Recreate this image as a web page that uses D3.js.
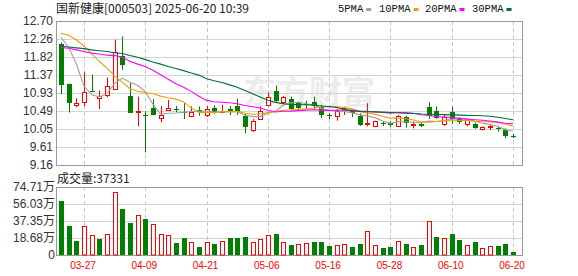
<!DOCTYPE html>
<html lang="zh">
<head>
  <meta charset="UTF-8">
  <title>国新健康 K线</title>
  <script src="https://cdn.jsdelivr.net/npm/d3@7"></script>
  <style>
    body { margin: 0; background: #fff; }
    text { font-family: "Liberation Sans", "Noto Sans CJK SC", sans-serif; }
  </style>
</head>
<body>
  <div id="kline"></div>

  <script>
    const width = 578,
      height = 276;

    // 交易日
    const dates = ["03-24","03-25","03-26","03-27","03-28","03-31","04-01","04-02","04-03","04-07",
      "04-08","04-09","04-10","04-11","04-14","04-15","04-16","04-17","04-18","04-21",
      "04-22","04-23","04-24","04-25","04-28","04-29","04-30","05-06","05-07","05-08",
      "05-09","05-12","05-13","05-14","05-15","05-16","05-19","05-20","05-21","05-22",
      "05-23","05-26","05-27","05-28","05-29","05-30","06-03","06-04","06-05","06-06",
      "06-09","06-10","06-11","06-12","06-13","06-16","06-17","06-18","06-19","06-20"];

    const opens = [12.13,11.16,10.63,10.70,10.99,10.82,10.88,11.03,11.83,10.86,
      10.45,10.38,10.56,10.31,10.53,10.54,10.46,10.37,10.51,10.39,
      10.55,10.46,10.54,10.60,10.37,10.04,10.29,10.63,10.99,10.70,
      10.79,10.68,10.66,10.70,10.58,10.38,10.35,10.54,10.50,10.37,
      10.18,10.11,10.20,10.19,10.12,10.34,10.15,10.17,10.58,10.49,
      10.17,10.46,10.30,10.16,10.17,10.05,10.08,10.06,10.01,9.88];
    const highs = [12.17,11.16,10.80,11.44,11.38,10.99,11.31,12.24,12.32,11.17,
      10.84,10.48,10.78,10.61,10.76,10.61,10.68,10.60,10.60,10.61,
      10.63,10.64,10.61,10.79,10.43,10.29,10.60,10.94,11.12,10.86,
      10.84,10.72,10.74,10.84,10.64,10.43,10.54,10.60,10.52,10.43,
      10.68,10.25,10.23,10.23,10.39,10.37,10.23,10.19,10.70,10.60,
      10.41,10.60,10.33,10.29,10.20,10.11,10.17,10.11,10.06,9.92];
    const lows = [10.90,10.45,10.58,10.61,10.97,10.54,10.83,11.01,11.50,10.45,
      10.11,9.47,10.38,10.21,10.52,10.46,10.29,10.34,10.37,10.34,
      10.42,10.46,10.39,10.39,9.94,9.97,10.27,10.60,10.71,10.66,
      10.54,10.51,10.56,10.53,10.31,10.29,10.25,10.39,10.34,10.12,
      10.11,10.09,10.12,10.09,10.10,10.08,10.06,10.09,10.29,10.29,
      10.12,10.17,10.17,10.11,10.05,10.01,10.02,9.98,9.82,9.82];
    const closes = [11.13,10.70,10.68,10.95,10.97,10.86,11.11,11.94,11.61,10.45,
      10.48,10.35,10.38,10.39,10.57,10.51,10.43,10.47,10.46,10.54,
      10.42,10.48,10.46,10.45,10.11,10.25,10.48,10.83,10.75,10.83,
      10.55,10.56,10.63,10.61,10.38,10.35,10.48,10.57,10.43,10.16,
      10.20,10.23,10.18,10.15,10.37,10.19,10.17,10.11,10.35,10.33,
      10.33,10.29,10.23,10.27,10.06,10.09,10.11,10.03,9.86,9.85];

    // 成交量(万手) 与柱子涨跌(1 红 / -1 绿)
    const volumes = [59.0,31.7,15.3,32.4,21.5,17.5,22.6,69.6,50.3,35.0,
      43.4,39.4,34.6,22.6,21.5,13.1,18.6,13.8,9.1,14.2,
      12.0,15.3,18.9,18.9,19.7,13.8,17.5,21.9,23.0,13.8,
      10.9,11.7,12.8,14.2,14.2,10.2,10.9,11.7,9.1,12.0,
      26.2,10.9,8.0,9.1,15.3,12.0,8.7,10.9,37.2,19.7,
      18.6,23.0,16.4,10.9,14.2,7.7,9.8,9.8,12.0,3.7331];
    const volDir = [-1,-1,-1,1,1,-1,1,1,-1,-1,
      1,-1,1,1,1,-1,-1,1,-1,1,
      -1,1,-1,-1,-1,1,1,1,-1,1,
      -1,1,1,-1,-1,-1,1,1,-1,-1,
      1,1,-1,-1,1,-1,1,-1,1,-1,
      1,-1,-1,1,-1,1,1,-1,-1,-1];

    // 均线在窗口开头的读数(之前的数据不在图内)
    const ma5Head = [12.30,12.05,11.65,11.10];
    const ma10Head = [12.40,12.35,12.24,12.08,11.90,11.71,11.54,11.35,11.19];
    const ma20Head = [12.05,12.03,11.99,11.95,11.91,11.89,11.86,11.85,11.81,11.71,
      11.64,11.58,11.49,11.38,11.27,11.16,11.07,10.97,10.85];
    const ma30Head = [12.08,12.06,12.04,12.02,11.99,11.97,11.95,11.92,11.90,11.85,
      11.81,11.75,11.69,11.64,11.58,11.53,11.48,11.42,11.37,11.28,
      11.23,11.19,11.13,11.07,10.99,10.91,10.83,10.75,10.70];

    const priceTicks = [12.70,12.26,11.82,11.37,10.93,10.49,10.05,9.61,9.16];
    const volTicks = [0,18.68,37.35,56.03,74.71];
    const volTickLabels = ["0","18.68万","37.35万","56.03万","74.71万"];
    const dateTicks = ["03-27","04-09","04-21","05-06","05-16","05-28","06-10","06-20"];

    const RED = "#ff0000", GREEN = "#008000";
    const left = 56, right = 522;

    const svg = d3.select('#kline')
      .append('svg')
        .attr('width', width)
        .attr('height', height);

    const x = d3.scalePoint().domain(dates).range([61, 513]);
    const y = d3.scaleLinear().domain([9.16, 12.70]).range([165, 21]);
    const yv = d3.scaleLinear().domain([0, 74.71]).range([255, 187]);
    const px = d => Math.round(x(d));

    // 水印
    svg.append('text')
      .attr('x', 243).attr('y', 104)
      .attr('fill', '#ececec')
      .style('font-family', '"Noto Sans CJK SC"')
      .style('font-weight', 'bold')
      .style('font-size', '33px')
      .text('东方财富');

    // 网格
    svg.selectAll('.hgrid')
      .data(priceTicks.slice(1, -1))
      .join('line')
        .attr('x1', left).attr('x2', right)
        .attr('y1', d => Math.round(y(d)) + 0.5)
        .attr('y2', d => Math.round(y(d)) + 0.5)
        .attr('stroke', '#d4d4d4');

    svg.selectAll('.vgrid')
      .data(volTicks.slice(1, -1))
      .join('line')
        .attr('x1', left).attr('x2', right)
        .attr('y1', d => Math.round(yv(d)) + 0.5)
        .attr('y2', d => Math.round(yv(d)) + 0.5)
        .attr('stroke', '#d4d4d4');

    [[21, 165], [187, 255]].forEach(([t, b]) => {
      svg.append('g').selectAll('line')
        .data(dateTicks)
        .join('line')
          .attr('x1', d => px(d) + 0.5).attr('x2', d => px(d) + 0.5)
          .attr('y1', t).attr('y2', b)
          .attr('stroke', '#c8c8c8')
          .attr('stroke-dasharray', '4,3');
    });

    // 边框
    svg.append('rect')
      .attr('x', left + 0.5).attr('y', 21.5)
      .attr('width', right - left).attr('height', 144)
      .attr('fill', 'none').attr('stroke', '#999');
    svg.append('rect')
      .attr('x', left + 0.5).attr('y', 187.5)
      .attr('width', right - left).attr('height', 68)
      .attr('fill', 'none').attr('stroke', '#999');

    // 均线
    const ma = (n, head) => closes.map((c, i) =>
      i < head.length ? head[i] : d3.mean(closes.slice(i - n + 1, i + 1)));

    const lines = [
      {name: '5PMA', n: 5, head: ma5Head, color: '#a0a0a0'},
      {name: '10PMA', n: 10, head: ma10Head, color: '#f0a000'},
      {name: '20PMA', n: 20, head: ma20Head, color: '#ff00ff'},
      {name: '30PMA', n: 30, head: ma30Head, color: '#006f36'}
    ];

    const line = d3.line()
      .x((d, i) => x(dates[i]))
      .y(d => y(d));

    // 蜡烛
    const candles = dates.map((d, i) => ({
      date: d, o: opens[i], h: highs[i], l: lows[i], c: closes[i], up: closes[i] >= opens[i]
    }));

    const k = svg.append('g');
    k.selectAll('line')
      .data(candles)
      .join('line')
        .attr('x1', d => px(d.date) + 0.5).attr('x2', d => px(d.date) + 0.5)
        .attr('y1', d => y(d.h)).attr('y2', d => y(d.l))
        .attr('stroke', d => d.up ? RED : GREEN);

    k.selectAll('rect')
      .data(candles)
      .join('rect')
        .attr('x', d => d.up ? px(d.date) - 1.5 : px(d.date) - 2)
        .attr('width', d => d.up ? 4 : 5)
        .attr('y', d => Math.round(y(Math.max(d.o, d.c))) + (d.up ? 0.5 : 0))
        .attr('height', d => Math.max(1, Math.round(Math.abs(y(d.o) - y(d.c)))))
        .attr('fill', d => d.up ? '#fff' : GREEN)
        .attr('stroke', d => d.up ? RED : 'none');

    svg.selectAll('.ma')
      .data(lines)
      .join('path')
        .attr('d', s => line(ma(s.n, s.head)))
        .attr('fill', 'none')
        .attr('stroke', s => s.color)
        .attr('stroke-width', 1.1);

    // 成交量
    const v = svg.append('g');
    v.selectAll('rect')
      .data(volumes)
      .join('rect')
        .attr('x', (d, i) => volDir[i] > 0 ? px(dates[i]) - 1.5 : px(dates[i]) - 2)
        .attr('width', (d, i) => volDir[i] > 0 ? 4 : 5)
        .attr('y', (d, i) => Math.round(yv(d)) + (volDir[i] > 0 ? 0.5 : 0))
        .attr('height', (d, i) => 255 - Math.round(yv(d)) - (volDir[i] > 0 ? 0.5 : 0))
        .attr('fill', (d, i) => volDir[i] > 0 ? '#fff' : GREEN)
        .attr('stroke', (d, i) => volDir[i] > 0 ? RED : 'none');

    // 坐标文字
    svg.selectAll('.plabel')
      .data(priceTicks)
      .join('text')
        .attr('x', 53)
        .attr('y', d => y(d) + 4)
        .attr('text-anchor', 'end')
        .attr('fill', '#333')
        .style('font-size', '12px')
        .text(d => d.toFixed(2));

    svg.selectAll('.vlabel')
      .data(volTicks)
      .join('text')
        .attr('x', 55)
        .attr('y', d => yv(d) + 4)
        .attr('text-anchor', 'end')
        .attr('fill', '#333')
        .style('font-size', '12px')
        .text((d, i) => volTickLabels[i]);

    svg.selectAll('.dlabel')
      .data(dateTicks)
      .join('text')
        .attr('x', d => x(d) - 1)
        .attr('y', 269)
        .attr('text-anchor', 'middle')
        .attr('fill', RED)
        .style('font-size', '10px')
        .text(d => d);

    // 标题
    svg.append('text')
      .attr('x', 56).attr('y', 13)
      .attr('fill', '#222')
      .style('font-family', '"Noto Sans CJK SC"')
      .style('font-size', '12px')
      .text('国新健康[000503] 2025-06-20 10:39');

    svg.append('text')
      .attr('x', 57).attr('y', 183)
      .attr('fill', '#222')
      .style('font-family', '"Noto Sans CJK SC"')
      .style('font-size', '12px')
      .text('成交量:' + Math.round(volumes[volumes.length - 1] * 10000));

    // 图例
    const legendX = [338, 379, 425, 472];
    const lg = svg.selectAll('.legend')
      .data(lines)
      .join('g')
        .attr('transform', (d, i) => `translate(${legendX[i]},0)`);
    lg.append('text')
      .attr('y', 12)
      .attr('fill', '#111')
      .style('font-family', '"Liberation Mono", monospace')
      .style('font-size', '10.5px')
      .text(d => d.name);
    lg.append('rect')
      .attr('x', d => d.name.length * 6.3 + 3)
      .attr('y', 8)
      .attr('width', 5).attr('height', 3)
      .attr('fill', d => d.color);
  </script>
</body>
</html>
